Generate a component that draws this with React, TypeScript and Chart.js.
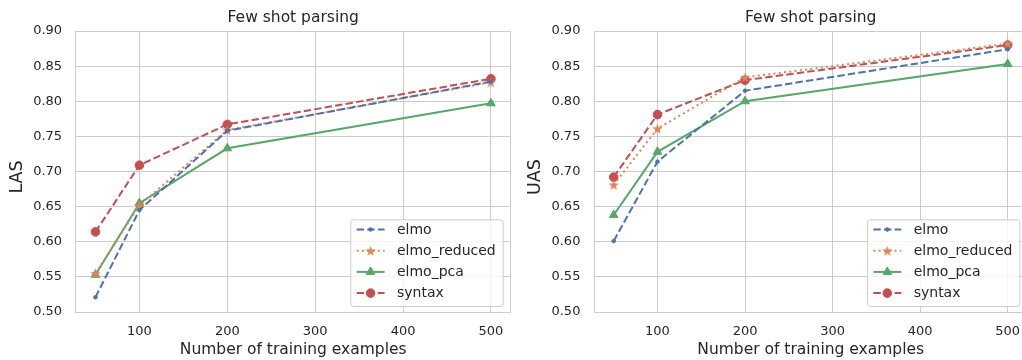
import React, { useEffect, useRef } from 'react';
import { Chart, registerables } from 'chart.js';

Chart.register(...registerables);

// ---- data ----
const trainingSizes = [50, 100, 200, 500];
const xTickValues = [100, 200, 300, 400, 500];
const yTickValues = [0.5, 0.55, 0.6, 0.65, 0.7, 0.75, 0.8, 0.85, 0.9];
const seriesNames = ['elmo', 'elmo_reduced', 'elmo_pca', 'syntax'];

const lasElmo = [0.521, 0.645, 0.758, 0.828];
const lasElmoReduced = [0.555, 0.652, 0.759, 0.827];
const lasElmoPca = [0.553, 0.655, 0.733, 0.797];
const lasSyntax = [0.614, 0.709, 0.767, 0.832];

const uasElmo = [0.601, 0.714, 0.815, 0.874];
const uasElmoReduced = [0.681, 0.761, 0.834, 0.882];
const uasElmoPca = [0.638, 0.728, 0.8, 0.853];
const uasSyntax = [0.692, 0.781, 0.83, 0.88];

const chartTitle = 'Few shot parsing';
const xAxisLabel = 'Number of training examples';

// ---- styles ----
const FONT = 'DejaVu Sans';
const TEXT = '#262626';
const GRID = '#cccccc';
const COLORS = ['#4C72B0', '#DD8452', '#55A868', '#C44E52'];
const DASHES = [[7.4, 3.2], [2, 3.3], [], [7.4, 3.2]];
const MARKERS = ['dot', 'star', 'triangle', 'circle'];

function makeStar(color: string) {
  const c = document.createElement('canvas');
  const s = 13;
  c.width = s;
  c.height = s;
  const ctx = c.getContext('2d')!;
  const R = 5.6;
  const r = R * 0.382;
  const cx = s / 2;
  const cy = s / 2 + 0.6;
  ctx.beginPath();
  for (let i = 0; i < 10; i++) {
    const rad = i % 2 === 0 ? R : r;
    const a = -Math.PI / 2 + (i * Math.PI) / 5;
    const x = cx + Math.cos(a) * rad;
    const y = cy + Math.sin(a) * rad;
    if (i === 0) ctx.moveTo(x, y);
    else ctx.lineTo(x, y);
  }
  ctx.closePath();
  ctx.fillStyle = color;
  ctx.fill();
  return c;
}

function drawMarker(ctx: CanvasRenderingContext2D, kind: string, color: string, x: number, y: number, star: HTMLCanvasElement) {
  ctx.save();
  ctx.setLineDash([]);
  ctx.fillStyle = color;
  ctx.strokeStyle = color;
  ctx.lineWidth = 1;
  if (kind === 'star') {
    ctx.drawImage(star, x - star.width / 2, y - star.height / 2);
  } else if (kind === 'triangle') {
    const r = 5;
    ctx.beginPath();
    ctx.moveTo(x, y - r);
    ctx.lineTo(x + 0.866 * r, y + 0.5 * r);
    ctx.lineTo(x - 0.866 * r, y + 0.5 * r);
    ctx.closePath();
    ctx.fill();
    ctx.stroke();
  } else {
    const r = kind === 'circle' ? 4.3 : 1.8;
    ctx.beginPath();
    ctx.arc(x, y, r, 0, Math.PI * 2);
    ctx.fill();
    ctx.stroke();
  }
  ctx.restore();
}

function makeDecor(ylabel: string, star: HTMLCanvasElement) {
  return {
    id: 'decor',
    beforeDatasetsDraw(chart: any) {
      const { ctx, chartArea: a } = chart;
      ctx.save();
      ctx.strokeStyle = GRID;
      ctx.lineWidth = 1;
      const l = Math.round(a.left - 0.5) + 0.5;
      const r = Math.round(a.right - 0.5) + 0.5;
      const t = Math.round(a.top - 0.5) + 0.5;
      const b = Math.round(a.bottom - 0.5) + 0.5;
      ctx.strokeRect(l, t, r - l, b - t);
      ctx.restore();
    },
    afterDraw(chart: any) {
      const { ctx, chartArea: a } = chart;
      const cx = (a.left + a.right) / 2;
      ctx.save();
      ctx.fillStyle = TEXT;
      ctx.textAlign = 'center';
      ctx.textBaseline = 'middle';
      ctx.font = `15.5px "${FONT}"`;
      ctx.fillText(chartTitle, cx, 17.8);
      ctx.fillText(xAxisLabel, cx, 349.6);
      ctx.save();
      ctx.translate(17.3, 177);
      ctx.rotate(-Math.PI / 2);
      ctx.font = `17.5px "${FONT}"`;
      ctx.fillText(ylabel, 0, 0);
      ctx.restore();

      // legend
      ctx.font = `14px "${FONT}"`;
      let maxW = 0;
      chart.data.datasets.forEach((d: any) => {
        maxW = Math.max(maxW, ctx.measureText(d.label).width);
      });
      const w = 46.7 + maxW + 7;
      const h = 86.7;
      const right = a.right - 8;
      const bottom = a.bottom - 6;
      const left = right - w;
      const top = bottom - h;
      ctx.beginPath();
      if ((ctx as any).roundRect) (ctx as any).roundRect(left + 0.5, top + 0.5, w, h, 3);
      else ctx.rect(left + 0.5, top + 0.5, w, h);
      ctx.fillStyle = 'rgba(255,255,255,0.8)';
      ctx.fill();
      ctx.strokeStyle = GRID;
      ctx.lineWidth = 1;
      ctx.stroke();
      chart.data.datasets.forEach((d: any, i: number) => {
        const y = top + 10.2 + i * 21.2;
        ctx.save();
        ctx.strokeStyle = d.borderColor;
        ctx.lineWidth = 2;
        ctx.setLineDash(d.borderDash || []);
        ctx.beginPath();
        ctx.moveTo(left + 6.4, y);
        ctx.lineTo(left + 34.3, y);
        ctx.stroke();
        ctx.restore();
        drawMarker(ctx, MARKERS[i], d.borderColor, left + 20.3, y, star);
        ctx.fillStyle = TEXT;
        ctx.textAlign = 'left';
        ctx.textBaseline = 'middle';
        ctx.fillText(d.label, left + 46.7, y + 0.5);
      });
      ctx.restore();
    },
  };
}

function buildChart(
  canvas: HTMLCanvasElement,
  series: number[][],
  ylabel: string,
  yAxisWidth: number,
  rightPad: number
) {
  const stars = COLORS.map((c) => makeStar(c));
  const datasets = series.map((vals, i) => {
    const kind = MARKERS[i];
    const pointStyle: any = kind === 'star' ? stars[i] : kind === 'triangle' ? 'triangle' : 'circle';
    return {
      label: seriesNames[i],
      data: trainingSizes.map((x, j) => ({ x, y: vals[j] })),
      borderColor: COLORS[i],
      backgroundColor: COLORS[i],
      borderWidth: 2,
      borderDash: DASHES[i],
      pointStyle,
      pointRadius: kind === 'circle' ? 4.3 : kind === 'triangle' ? 5 : kind === 'star' ? 5 : 1.8,
      pointBorderWidth: 1,
      pointBorderColor: COLORS[i],
      pointBackgroundColor: COLORS[i],
      tension: 0,
      fill: false,
    };
  });
  return new Chart(canvas, {
    type: 'line',
    data: { datasets },
    plugins: [makeDecor(ylabel, stars[1])],
    options: {
      responsive: false,
      animation: false,
      devicePixelRatio: 1,
      layout: { padding: { left: 0, right: rightPad, top: 31, bottom: 0 } },
      plugins: {
        legend: { display: false },
        title: { display: false },
        tooltip: { enabled: false },
      },
      scales: {
        x: {
          type: 'linear',
          min: 27.5,
          max: 522.5,
          afterBuildTicks: (s: any) => {
            s.ticks = xTickValues.map((value) => ({ value }));
          },
          afterFit: (s: any) => {
            s.height = 48;
          },
          grid: { color: GRID, lineWidth: 1, drawTicks: false },
          border: { display: false },
          ticks: {
            padding: 12.3,
            color: TEXT,
            font: { family: FONT, size: 13 },
            maxRotation: 0,
            callback: (v: any) => String(v),
          },
        },
        y: {
          type: 'linear',
          min: 0.5,
          max: 0.9,
          afterBuildTicks: (s: any) => {
            s.ticks = yTickValues.map((value) => ({ value }));
          },
          afterFit: (s: any) => {
            s.width = yAxisWidth;
          },
          grid: { color: GRID, lineWidth: 1, drawTicks: false },
          border: { display: false },
          ticks: {
            padding: 13.6,
            color: TEXT,
            font: { family: FONT, size: 13 },
            callback: (v: any) => Number(v).toFixed(2),
          },
        },
      },
    } as any,
  });
}

export default function App() {
  const leftRef = useRef<HTMLCanvasElement>(null);
  const rightRef = useRef<HTMLCanvasElement>(null);

  useEffect(() => {
    Chart.defaults.font.family = FONT;
    const c1 = buildChart(leftRef.current!, [lasElmo, lasElmoReduced, lasElmoPca, lasSyntax], 'LAS', 75.7, 7.3);
    const c2 = buildChart(rightRef.current!, [uasElmo, uasElmoReduced, uasElmoPca, uasSyntax], 'UAS', 76, 7.6);
    return () => {
      c1.destroy();
      c2.destroy();
    };
  }, []);

  return (
    <div
      style={{
        position: 'fixed',
        left: 0,
        top: 0,
        width: 1022,
        height: 360,
        overflow: 'hidden',
        background: '#ffffff',
      }}
    >
      <canvas ref={leftRef} width={518} height={360} style={{ position: 'absolute', left: 0, top: 0 }} />
      <canvas ref={rightRef} width={517} height={360} style={{ position: 'absolute', left: 518, top: 0 }} />
    </div>
  );
}
